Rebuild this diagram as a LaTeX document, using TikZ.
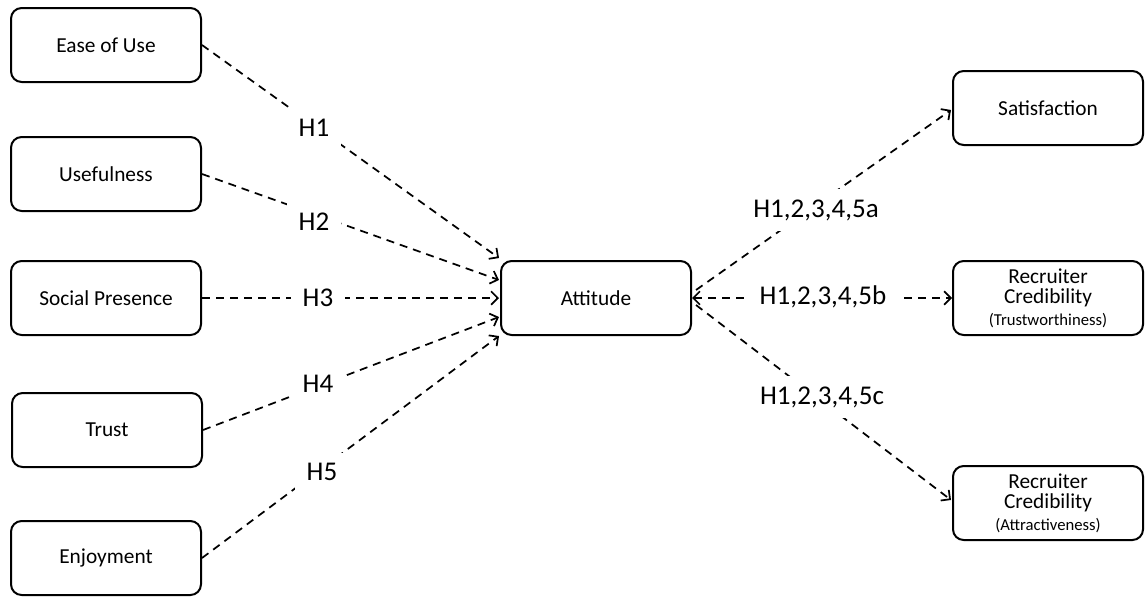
\documentclass[tikz,border=0pt]{standalone}
\usepackage{fontspec}
\setmainfont{Carlito}
\usetikzlibrary{arrows.meta,calc}
\tikzset{
  box/.style={draw, line width=1.5pt, rounded corners=8pt, minimum width=142.5pt, minimum height=55.5pt, align=center, font=\fontsize{16}{15}\selectfont, inner sep=0pt},
  link/.style={line width=1.3pt, dash pattern=on 6pt off 4.5pt, -{Straight Barb[length=5pt,width=10pt,line width=1.3pt]}},
  lab/.style={fill=white, inner xsep=9pt, inner ysep=8pt, font=\fontsize{20.3}{22}\selectfont},
}
\begin{document}
\begin{tikzpicture}[x=0.75pt, y=-0.75pt]
\useasboundingbox (0,0) rectangle (1145,597);
\node[box] (ease) at (106,45) {Ease of Use};
\node[box] (use) at (106,174) {Usefulness};
\node[box] (soc) at (106,298) {Social Presence};
\node[box] (trust) at (107,430) {Trust};
\node[box] (enj) at (106,558) {Enjoyment};
\node[box] (att) at (596,298) {Attitude};
\node[box] (sat) at (1048,108) {Satisfaction};
\node[box] (tw) at (1048,298) {Recruiter\\Credibility\\[1.5pt]{\fontsize{12.5}{13}\selectfont(Trustworthiness)}};
\node[box] (at2) at (1048,503) {Recruiter\\Credibility\\[1.5pt]{\fontsize{12.5}{13}\selectfont(Attractiveness)}};
\coordinate (e1) at ($(att.west)+(-1,-40)$);
\coordinate (e2) at ($(att.west)+(-1,-18)$);
\coordinate (e3) at ($(att.west)+(-1,0)$);
\coordinate (e4) at ($(att.west)+(-1,19)$);
\coordinate (e5) at ($(att.west)+(-1,38)$);
\coordinate (r1) at ($(att.east)+(4,-8)$);
\coordinate (r3) at ($(att.east)+(4,7)$);
\coordinate (s1) at ($(sat.west)+(-1,2)$);
\coordinate (s3) at ($(at2.west)+(-1,-3)$);
\draw[link] (ease.east) -- (e1);
\draw[link] (use.east) -- (e2);
\draw[link] (soc.east) -- (e3);
\draw[link] (trust.east) -- (e4);
\draw[link] (enj.east) -- (e5);
\draw[link] (r1) -- (s1);
\draw[link, {Straight Barb[length=5pt,width=10pt,line width=1.3pt]}-{Straight Barb[length=5pt,width=10pt,line width=1.3pt]}] (att.east) -- (tw.west);
\draw[link] (r3) -- (s3);
\node[lab] (h1) at (314,128) {H1};
\node[lab] (h2) at (314,222) {H2};
\node[lab] (h3) at (318,298) {H3};
\node[lab] (h4) at (318,384) {H4};
\node[lab] (h5) at (322,472) {H5};
\node[lab] (ha) at (816,210) {H1,2,3,4,5a};
\node[lab] (hb) at (823,297) {H1,2,3,4,5b};
\node[lab] (hc) at (822,397) {H1,2,3,4,5c};
\end{tikzpicture}
\end{document}
